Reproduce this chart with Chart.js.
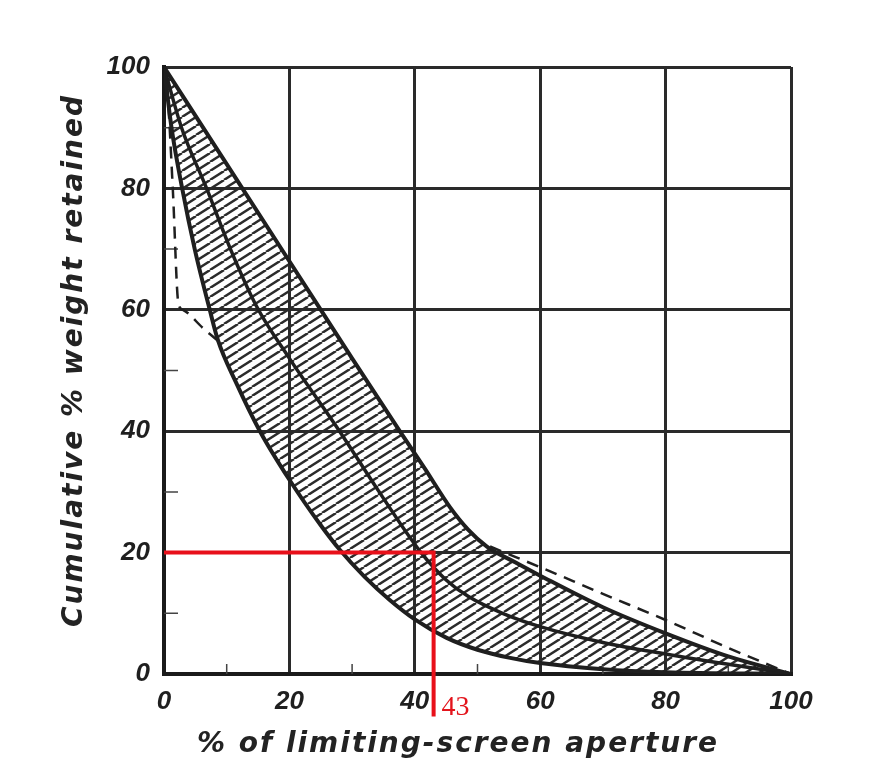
<!DOCTYPE html>
<html>
<head>
<meta charset="utf-8">
<title>Cumulative % weight retained</title>
<script src="https://cdn.jsdelivr.net/npm/chart.js@4.4.1/dist/chart.umd.min.js"></script>
<style>
  html, body { margin: 0; padding: 0; background: #fff; }
  #wrap { width: 872px; height: 780px; }
</style>
</head>
<body>
<div id="wrap"><canvas id="chart" width="872" height="780"></canvas></div>
<script>
// --- Data ---
const xTitle = '% of limiting-screen aperture';
const yTitle = 'Cumulative % weight retained';
const xTicks = [0, 20, 40, 60, 80, 100];
const yTicks = [0, 20, 40, 60, 80, 100];
const minorTicks = [10, 30, 50, 70, 90];

// upper edge of the hatched band
const upperX = [0, 10, 20, 30, 37.6, 41.5, 45.6, 48.5, 51.5, 56, 60, 70, 80, 90, 100];
const upperY = [100, 84, 68, 52, 40, 34, 27.5, 23.8, 21, 18.4, 16.2, 11, 6.7, 2.9, 0];

// lower edge of the hatched band
const lowerX = [0, 1.2, 2.9, 4.9, 7.3, 8.6, 11.5, 15.3, 20, 25, 28, 32, 36, 40, 45, 50, 55, 60, 70, 80, 100];
const lowerY = [100, 90, 80, 70, 60, 55, 48, 40, 32, 24.5, 20.5, 16, 12.2, 9, 6, 4, 2.7, 1.8, 0.8, 0.3, 0];

// middle curve
const middleX = [0, 2.8, 6.8, 10.6, 14.8, 20, 28, 34, 41, 45, 48.5, 54, 60, 70, 80, 90, 100];
const middleY = [100, 90, 80, 70, 60.5, 52, 40, 30.5, 20, 15.5, 12.8, 10, 7.8, 5.2, 3.3, 1.6, 0];

// dashed curve (the part inside the band is hidden by the hatching)
const dashedX = [0, 0.6, 1.4, 2.3, 3, 6.2, 9, 15, 25, 35, 45, 52, 56, 60, 70, 80, 90, 100];
const dashedY = [100, 95, 80, 61, 60, 57, 54.5, 48, 38, 29, 24, 21, 19.3, 17.6, 13.2, 8.9, 4.3, 0];
const dashedHidden = [9, 52];

// red reading lines
const markX = 43;
const markY = 20;
const markLabel = '43';

function toPoints(xs, ys) {
    return xs.map((x, i) => ({ x: x, y: ys[i] }));
}

// --- Hatch pattern for the band ---
function makeHatch() {
    const w = 14, h = 9;
    const tile = document.createElement('canvas');
    tile.width = w;
    tile.height = h;
    const c = tile.getContext('2d');
    c.strokeStyle = '#2b2b2b';
    c.lineWidth = 2.4;
    c.beginPath();
    [-w, 0, w].forEach(dx => {
        c.moveTo(dx, h);
        c.lineTo(dx + w, 0);
    });
    c.stroke();
    return c.createPattern(tile, 'repeat');
}

// --- Extra text and short inner ticks ---
const figureText = {
    id: 'figureText',
    beforeDatasetsDraw(chart) {
        const { ctx, chartArea, scales: { x, y } } = chart;
        ctx.save();
        ctx.strokeStyle = '#444';
        ctx.lineWidth = 1.5;
        ctx.beginPath();
        minorTicks.forEach(v => {
            const py = y.getPixelForValue(v);
            ctx.moveTo(chartArea.left, py);
            ctx.lineTo(chartArea.left + 14, py);
            const px = x.getPixelForValue(v);
            ctx.moveTo(px, chartArea.bottom);
            ctx.lineTo(px, chartArea.bottom - 10);
        });
        ctx.stroke();
        ctx.restore();
    },
    afterDraw(chart) {
        const { ctx, chartArea, scales: { x, y } } = chart;
        ctx.save();
        ctx.fillStyle = '#232323';
        ctx.font = 'oblique bold 28px "DejaVu Sans"';
        ctx.letterSpacing = '2px';
        ctx.textAlign = 'center';
        ctx.textBaseline = 'middle';
        ctx.fillText(xTitle, chartArea.left + 294, chartArea.bottom + 71);
        ctx.translate(chartArea.left - 89, (chartArea.top + chartArea.bottom) / 2 - 10);
        ctx.rotate(-Math.PI / 2);
        ctx.fillText(yTitle, 0, 0);
        ctx.restore();

        ctx.save();
        ctx.fillStyle = '#e3141c';
        ctx.font = '28px "Liberation Serif"';
        ctx.textAlign = 'left';
        ctx.textBaseline = 'middle';
        ctx.fillText(markLabel, x.getPixelForValue(markX) + 8, y.getPixelForValue(0) + 34);
        ctx.restore();
    }
};

document.addEventListener('DOMContentLoaded', function() {
    const ctx = document.getElementById('chart').getContext('2d');
    const ink = '#1f1f1f';
    const tickFont = { family: 'Liberation Sans', size: 26, style: 'italic', weight: 'bold' };

    new Chart(ctx, {
        type: 'line',
        data: {
            datasets: [
                {
                    label: 'reading',
                    data: [{ x: 0, y: markY }, { x: markX, y: markY }, { x: markX, y: -7 }],
                    borderColor: '#e8101a',
                    borderWidth: 4,
                    pointRadius: 0,
                    tension: 0,
                    clip: false
                },
                {
                    label: 'upper',
                    data: toPoints(upperX, upperY),
                    borderColor: ink,
                    borderWidth: 4,
                    pointRadius: 0,
                    cubicInterpolationMode: 'monotone',
                    fill: '+1',
                    backgroundColor: makeHatch()
                },
                {
                    label: 'lower',
                    data: toPoints(lowerX, lowerY),
                    borderColor: ink,
                    borderWidth: 4,
                    pointRadius: 0,
                    cubicInterpolationMode: 'monotone'
                },
                {
                    label: 'middle',
                    data: toPoints(middleX, middleY),
                    borderColor: ink,
                    borderWidth: 3.5,
                    pointRadius: 0,
                    cubicInterpolationMode: 'monotone'
                },
                {
                    label: 'dashed',
                    data: toPoints(dashedX, dashedY),
                    borderColor: ink,
                    borderWidth: 2.5,
                    borderDash: [12, 8],
                    pointRadius: 0,
                    cubicInterpolationMode: 'monotone',
                    segment: {
                        borderColor: c => (c.p0.parsed.x >= dashedHidden[0] && c.p1.parsed.x <= dashedHidden[1]) ? 'rgba(0,0,0,0)' : undefined
                    }
                }
            ]
        },
        options: {
            responsive: false,
            animation: false,
            layout: { padding: { top: 67, right: 81, left: 0, bottom: 0 } },
            plugins: {
                legend: { display: false },
                tooltip: { enabled: false },
                filler: { drawTime: 'beforeDatasetsDraw' }
            },
            scales: {
                x: {
                    type: 'linear',
                    min: 0,
                    max: 100,
                    afterFit: scale => { scale.height = 106; },
                    afterBuildTicks: scale => { scale.ticks = xTicks.map(v => ({ value: v })); },
                    ticks: { color: ink, font: tickFont, padding: 12, maxRotation: 0 },
                    grid: { color: '#2a2a2a', lineWidth: 3, drawTicks: false },
                    border: { color: '#1a1a1a', width: 4 }
                },
                y: {
                    min: 0,
                    max: 100,
                    afterFit: scale => { scale.width = 164; },
                    afterBuildTicks: scale => { scale.ticks = yTicks.map(v => ({ value: v })); },
                    ticks: { color: ink, font: tickFont, padding: 14 },
                    grid: { color: '#2a2a2a', lineWidth: 3, drawTicks: false },
                    border: { color: '#1a1a1a', width: 4 }
                }
            }
        },
        plugins: [figureText]
    });
});
</script>
</body>
</html>
